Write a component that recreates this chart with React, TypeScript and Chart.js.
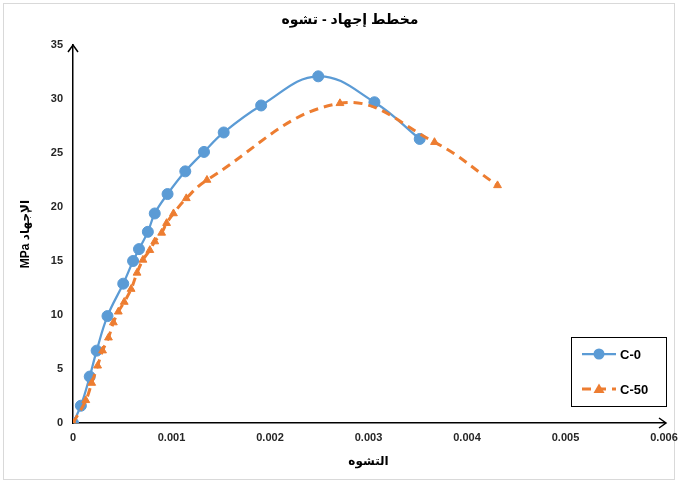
import React, { useEffect, useRef } from "react";
import { Chart, registerables } from "chart.js";

Chart.register(...registerables);

const chartTitle = "مخطط إجهاد - تشوه";
const xAxisTitle = "التشوه";
const yAxisTitle = "MPa الإجهاد";
const seriesNames = ["C-0", "C-50"];

const strainC0 = [0, 0.00008, 0.00017, 0.00024, 0.00035, 0.00051, 0.00061, 0.00067, 0.00076, 0.00083, 0.00096, 0.00114, 0.00133, 0.00153, 0.00191, 0.00249, 0.00306, 0.00352];
const stressC0 = [0, 1.6, 4.3, 6.7, 9.9, 12.9, 15.0, 16.1, 17.7, 19.4, 21.2, 23.3, 25.1, 26.9, 29.4, 32.1, 29.7, 26.3];

const strainC50 = [0, 0.00013, 0.00019, 0.00025, 0.0003, 0.00036, 0.00041, 0.00046, 0.00052, 0.00059, 0.00065, 0.00071, 0.00078, 0.00083, 0.0009, 0.00095, 0.00102, 0.00115, 0.00136, 0.00271, 0.00367, 0.00431];
const stressC50 = [0, 2.1, 3.7, 5.3, 6.7, 7.9, 9.3, 10.3, 11.2, 12.4, 13.9, 15.1, 16.0, 16.8, 17.6, 18.5, 19.4, 20.8, 22.5, 29.6, 26.0, 22.0];

const xTickValues = [0, 0.001, 0.002, 0.003, 0.004, 0.005, 0.006];
const yTickValues = [0, 5, 10, 15, 20, 25, 30, 35];

const BLUE = "#5B9BD5";
const ORANGE = "#ED7D31";
const FONT = "'Liberation Sans', 'DejaVu Sans', Arial, sans-serif";

const decorPlugin = {
  id: "decor",
  beforeDraw(chart: any) {
    const ctx = chart.ctx;
    ctx.save();
    ctx.fillStyle = "#ffffff";
    ctx.fillRect(0, 0, chart.width, chart.height);
    ctx.strokeStyle = "#d9d9d9";
    ctx.lineWidth = 1;
    ctx.strokeRect(3.5, 3.5, chart.width - 7, chart.height - 7);
    ctx.restore();
  },
  afterDraw(chart: any) {
    const ctx = chart.ctx;
    const a = chart.chartArea;
    ctx.save();
    // title
    ctx.fillStyle = "#000";
    ctx.font = `bold 14px ${FONT}`;
    ctx.textAlign = "center";
    ctx.textBaseline = "middle";
    ctx.fillText(chartTitle, 350, 20);
    // axis arrows
    ctx.strokeStyle = "#000";
    ctx.lineWidth = 1.5;
    ctx.beginPath();
    ctx.moveTo(a.left - 5, a.top + 7);
    ctx.lineTo(a.left, a.top);
    ctx.lineTo(a.left + 5, a.top + 7);
    ctx.stroke();
    ctx.beginPath();
    ctx.moveTo(a.right, a.bottom);
    ctx.lineTo(a.right + 2, a.bottom);
    ctx.stroke();
    ctx.beginPath();
    ctx.moveTo(a.right - 5, a.bottom - 5);
    ctx.lineTo(a.right + 2, a.bottom);
    ctx.lineTo(a.right - 5, a.bottom + 5);
    ctx.stroke();
    // legend
    const bx = 571.5, by = 337.5, bw = 95, bh = 69;
    ctx.lineWidth = 1;
    ctx.strokeRect(bx, by, bw, bh);
    const rows = [354, 389];
    chart.data.datasets.forEach((ds: any, i: number) => {
      const y = rows[i];
      ctx.strokeStyle = ds.borderColor;
      ctx.lineWidth = ds.borderWidth;
      ctx.setLineDash(ds.borderDash || []);
      ctx.beginPath();
      ctx.moveTo(582, y);
      ctx.lineTo(616, y);
      ctx.stroke();
      ctx.setLineDash([]);
      ctx.fillStyle = ds.pointBackgroundColor;
      ctx.beginPath();
      if (ds.pointStyle === "triangle") {
        ctx.moveTo(599, y - 5.5);
        ctx.lineTo(604.5, y + 4);
        ctx.lineTo(593.5, y + 4);
        ctx.closePath();
      } else {
        ctx.arc(599, y, 5.5, 0, Math.PI * 2);
      }
      ctx.fill();
      ctx.fillStyle = "#000";
      ctx.font = `bold 13px ${FONT}`;
      ctx.textAlign = "left";
      ctx.textBaseline = "middle";
      ctx.fillText(ds.label, 620, y + 1);
    });
    ctx.restore();
  },
};

export default function App() {
  const ref = useRef<HTMLCanvasElement | null>(null);
  useEffect(() => {
    if (!ref.current) return;
    const toPts = (xs: number[], ys: number[]) => xs.map((x, i) => ({ x, y: ys[i] }));
    const chart = new Chart(ref.current, {
      type: "scatter",
      data: {
        datasets: [
          {
            label: seriesNames[0],
            data: toPts(strainC0, stressC0),
            showLine: true,
            borderColor: BLUE,
            backgroundColor: BLUE,
            pointBackgroundColor: BLUE,
            pointBorderColor: BLUE,
            borderWidth: 2.25,
            pointRadius: 5.5,
            pointBorderWidth: 1,
            pointStyle: "circle",
            tension: 0.4,
            order: 1,
          },
          {
            label: seriesNames[1],
            data: toPts(strainC50, stressC50),
            showLine: true,
            borderColor: ORANGE,
            backgroundColor: ORANGE,
            pointBackgroundColor: ORANGE,
            pointBorderColor: ORANGE,
            borderWidth: 3,
            borderDash: [9, 6],
            pointRadius: 4.5,
            pointBorderWidth: 1,
            pointStyle: "triangle",
            tension: 0.4,
            order: 0,
          },
        ] as any,
      },
      options: {
        animation: false,
        responsive: false,
        layout: { padding: { left: 16, top: 45, right: 14, bottom: 10 } },
        plugins: {
          legend: { display: false },
          title: { display: false },
          tooltip: { enabled: false },
        },
        scales: {
          x: {
            type: "linear",
            min: xTickValues[0],
            max: xTickValues[xTickValues.length - 1],
            afterFit: (s: any) => { s.height = 50; s.paddingRight = 0; s.paddingLeft = 0; },
            afterBuildTicks: (s: any) => { s.ticks = xTickValues.map((v) => ({ value: v })); },
            grid: { display: false, drawTicks: false },
            border: { display: true, color: "#000", width: 1.5 },
            ticks: {
              padding: 8,
              color: "#262626",
              font: { family: FONT, size: 11, weight: "bold" },
              maxRotation: 0,
              autoSkip: false,
              callback: (v: any) => (Number(v) === 0 ? "0" : Number(v).toFixed(3)),
            },
            title: {
              display: true,
              text: xAxisTitle,
              color: "#000",
              font: { family: FONT, size: 12, weight: "bold" },
              padding: { top: 4, bottom: 4 },
            },
          },
          y: {
            type: "linear",
            min: yTickValues[0],
            max: yTickValues[yTickValues.length - 1],
            afterFit: (s: any) => { s.width = 57; },
            afterBuildTicks: (s: any) => { s.ticks = yTickValues.map((v) => ({ value: v })); },
            grid: { display: false, drawTicks: false },
            border: { display: true, color: "#000", width: 1.5 },
            ticks: {
              padding: 10,
              color: "#262626",
              font: { family: FONT, size: 11, weight: "bold" },
              autoSkip: false,
            },
            title: {
              display: true,
              text: yAxisTitle,
              color: "#000",
              font: { family: FONT, size: 12, weight: "bold" },
              padding: { top: 2, bottom: 4 },
            },
          },
        },
      } as any,
      plugins: [decorPlugin],
    });
    return () => chart.destroy();
  }, []);
  return (
    <div style={{ position: "fixed", left: 0, top: 0, width: 678, height: 483 }}>
      <canvas ref={ref} width={678} height={483} style={{ width: 678, height: 483, display: "block" }} />
    </div>
  );
}
